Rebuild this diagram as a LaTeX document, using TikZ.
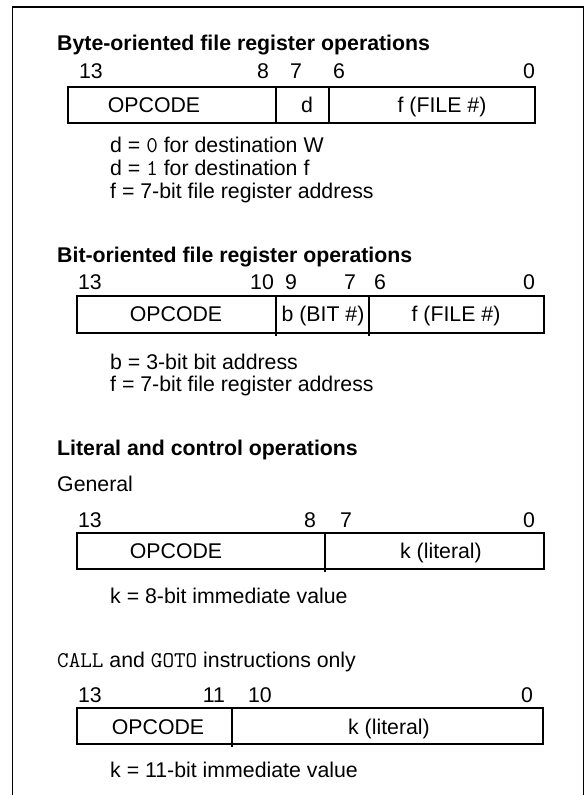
\documentclass[tikz,border=0pt]{standalone}
\usepackage{fontspec}
\setmainfont{Liberation Sans}
\newcommand{\monotxt}[1]{{\ttfamily\fontsize{22.5}{25}\selectfont\addfontfeatures{LetterSpace=7}#1}}
\begin{document}
\begin{tikzpicture}[x=1pt,y=-1pt,
  every node/.style={inner sep=0pt, font=\fontsize{21.3}{25}\selectfont},
  lbl/.style={anchor=base},
  hdr/.style={anchor=base west, font=\fontsize{21.3}{25}\selectfont\bfseries},
  txt/.style={anchor=base west},
  boxln/.style={line width=1.8pt},
  divln/.style={line width=1.5pt},
  frameln/.style={line width=1.3pt}]
\useasboundingbox (0,0) rectangle (588,795);
\draw[frameln] (12.5,800) -- (12.5,7) -- (583.5,7) -- (583.5,800);

% ---------- Byte-oriented ----------
\node[hdr] (t1) at (57,50) {Byte-oriented file register operations};
\node[lbl] (r1a) at (91,78) {13};
\node[lbl] (r1b) at (263,78) {8};
\node[lbl] (r1c) at (296,78) {7};
\node[lbl] (r1d) at (339,78) {6};
\node[lbl] (r1e) at (529,78) {0};
\draw[boxln] (68,87) rectangle (535,123);
\draw[divln] (276,87) -- (276,123);
\draw[divln] (329,87) -- (329,123);
\node[lbl] (b1op) at (154,112.6) {OPCODE};
\node[lbl] (b1d) at (307,112.6) {d};
\node[lbl] (b1f) at (442,112.6) {f (FILE \#)};
\node[txt] (n1a) at (110,152) {d = \monotxt{0} for destination W};
\node[txt] (n1b) at (110,175.5) {d = \monotxt{1} for destination f};
\node[txt] (n1c) at (110,198.5) {f = 7-bit file register address};

% ---------- Bit-oriented ----------
\node[hdr] (t2) at (57,262) {Bit-oriented file register operations};
\node[lbl] (r2a) at (90,289) {13};
\node[lbl] (r2b) at (262,289) {10};
\node[lbl] (r2c) at (291,289) {9};
\node[lbl] (r2d) at (350,289) {7};
\node[lbl] (r2e) at (380,289) {6};
\node[lbl] (r2f) at (529,289) {0};
\draw[boxln] (77,296) rectangle (544,333);
\draw[divln] (276,297) -- (276,336);
\draw[divln] (369,297) -- (369,336);
\node[lbl] (b2op) at (176,321) {OPCODE};
\node[lbl] (b2b) at (323,321) {b (BIT \#)};
\node[lbl] (b2f) at (456,321) {f (FILE \#)};
\node[txt] (n2a) at (110,369.5) {b = 3-bit bit address};
\node[txt] (n2b) at (110,391.5) {f = 7-bit file register address};

% ---------- Literal and control ----------
\node[hdr] (t3) at (57,455) {Literal and control operations};
\node[txt] (g1) at (57,491) {General};
\node[lbl] (r3a) at (90,527) {13};
\node[lbl] (r3b) at (310,527) {8};
\node[lbl] (r3c) at (346,527) {7};
\node[lbl] (r3d) at (529,527) {0};
\draw[boxln] (77,533) rectangle (544,569);
\draw[divln] (325,534) -- (325,572);
\node[lbl] (b3op) at (176,558.6) {OPCODE};
\node[lbl] (b3k) at (441,558.6) {k (literal)};
\node[txt] (n3a) at (110,603) {k = 8-bit immediate value};

\node[txt] (g2) at (57,667) {\monotxt{CALL} and \monotxt{GOTO} instructions only};
\node[lbl] (r4a) at (90,702) {13};
\node[lbl] (r4b) at (214,702) {11};
\node[lbl] (r4c) at (260,702) {10};
\node[lbl] (r4d) at (527,702) {0};
\draw[boxln] (77,708) rectangle (543,744);
\draw[divln] (232,709) -- (232,747);
\node[lbl] (b4op) at (158,734) {OPCODE};
\node[lbl] (b4k) at (389,734) {k (literal)};
\node[txt] (n4a) at (110,777) {k = 11-bit immediate value};
\end{tikzpicture}
\end{document}
